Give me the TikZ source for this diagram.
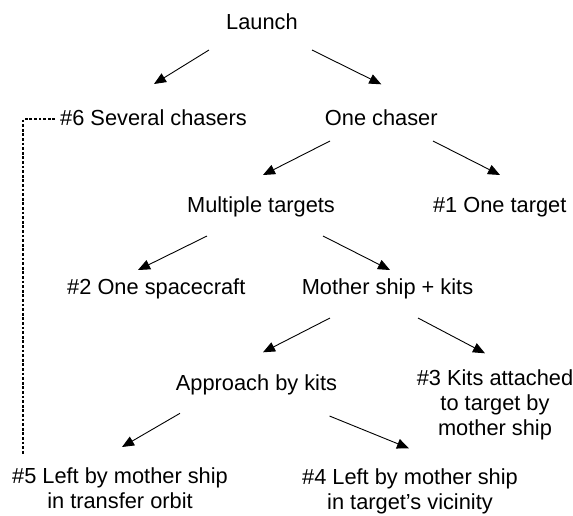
\documentclass[tikz,border=0pt]{standalone}
\usepackage{fontspec}
\setmainfont{Liberation Sans}
\usetikzlibrary{arrows.meta,calc}
\tikzset{
  lbl/.style={inner sep=0pt, outer sep=0pt, anchor=base, font=\fontsize{21.8}{24.6}\selectfont},
  mlbl/.style={lbl, align=center},
  arr/.style={line width=0.9pt, -{Triangle[length=12pt,width=10pt]}},
  dashline/.style={line width=1.9pt, dash pattern=on 2.8pt off 1.8pt, draw=black}
}
\begin{document}
\begin{tikzpicture}[x=1pt,y=-1pt]
\useasboundingbox (0,0) rectangle (573,515);
\node[lbl] (launch) at (262,29) {Launch};
\node[lbl] (six) at (153.5,125.5) {\#6 Several chasers};
\node[lbl] (one) at (381.3,125.5) {One chaser};
\node[lbl] (mult) at (261,212.5) {Multiple targets};
\node[lbl] (t1) at (499.7,212.5) {\#1 One target};
\node[lbl] (t2) at (156.3,294.5) {\#2 One spacecraft};
\node[lbl] (mother) at (387.5,294.5) {Mother ship + kits};
\node[lbl] (appr) at (256.5,390) {Approach by kits};
\node[mlbl] (t3) at (495,435) {\#3 Kits attached\\to target by\\mother ship};
\node[mlbl] (five) at (120,508.5) {\#5 Left by mother ship\\in transfer orbit};
\node[mlbl] (four) at (410,509.5) {\#4 Left by mother ship\\in target’s vicinity};
\coordinate (dashend) at (23.3,455);

\draw[arr] ([shift={(-53,21)}]launch.base) -- ([shift={(0.5,-41.5)}]six.base);
\draw[arr] ([shift={(50,21)}]launch.base) -- ([shift={(0,-41.2)}]one.base);
\draw[arr] ([shift={(-51.3,15.5)}]one.base) -- ([shift={(2,-37.5)}]mult.base);
\draw[arr] ([shift={(51.7,15.5)}]one.base) -- ([shift={(0.3,-37.5)}]t1.base);
\draw[arr] ([shift={(-54,23.5)}]mult.base) -- ([shift={(-18.3,-24.5)}]t2.base);
\draw[arr] ([shift={(62,23.5)}]mult.base) -- ([shift={(2.5,-24.5)}]mother.base);
\draw[arr] ([shift={(-57.5,23.5)}]mother.base) -- ([shift={(6.5,-37.7)}]appr.base);
\draw[arr] ([shift={(30.5,23.5)}]mother.base) -- ([shift={(-10,-81.7)}]t3.base);
\draw[arr] ([shift={(-76.5,23.3)}]appr.base) -- ([shift={(2,-61.5)}]five.base);
\draw[arr] ([shift={(73,26)}]appr.base) -- ([shift={(-1,-61.2)}]four.base);
\draw[dashline] ([shift={(-5,-6.2)}]six.base west) -| (dashend);
\end{tikzpicture}
\end{document}
